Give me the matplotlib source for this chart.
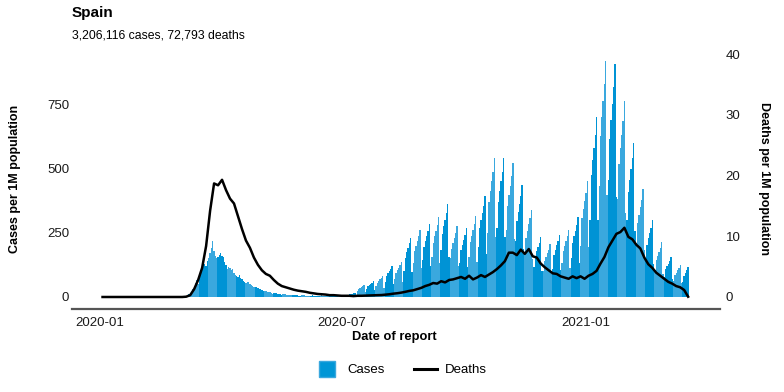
import matplotlib
matplotlib.use("Agg")
import matplotlib.pyplot as plt
import matplotlib.dates as mdates
from matplotlib.lines import Line2D
import numpy as np
import pandas as pd

plt.rcParams['font.family'] = ['Liberation Sans', 'DejaVu Sans']

title = "Spain"
subtitle = "3,206,116 cases, 72,793 deaths"

# daily cases per 1M population, one row per week (Mon..Sun), starting 2020-03-02
case_start = "2020-03-02"
cases = [
    1, 2, 3, 4, 5, 8, 10,
    15, 20, 30, 40, 55, 66, 50,
    90, 105, 115, 125, 130, 120, 141,
    150, 170, 190, 219, 180, 160, 150,
    157, 165, 171, 160, 156, 135, 125,
    110, 118, 112, 105, 109, 95, 85,
    80, 78, 86, 75, 70, 62, 58,
    55, 60, 58, 50, 48, 42, 40,
    38, 40, 35, 32, 30, 26, 22,
    22, 25, 20, 18, 18, 15, 13,
    15, 16, 14, 12, 12, 10, 9,
    10, 12, 10, 9, 8, 7, 6,
    8, 9, 7, 6, 6, 5, 4,
    6, 8, 6, 5, 5, 4, 3,
    5, 7, 5, 4, 4, 3, 2,
    4, 6, 4, 4, 3, 2, 2,
    4, 6, 4, 4, 3, 2, 2,
    5, 7, 5, 5, 4, 3, 3,
    8, 11, 12, 13, 14, 16, 7,
    23, 32, 36, 39, 42, 47, 20,
    31, 42, 47, 51, 56, 62, 27,
    41, 56, 62, 68, 74, 82, 35,
    60, 82, 92, 100, 109, 121, 52,
    68, 93, 104, 114, 123, 137, 59,
    100, 150, 175, 192, 208, 231, 99,
    131, 178, 199, 217, 236, 262, 113,
    142, 193, 216, 236, 256, 284, 122,
    155, 211, 236, 258, 280, 311, 134,
    181, 246, 275, 300, 326, 362, 156,
    150, 188, 210, 229, 248, 276, 119,
    134, 182, 204, 222, 241, 268, 115,
    157, 214, 239, 261, 283, 315, 135,
    196, 267, 299, 326, 354, 393, 169,
    250, 368, 411, 449, 487, 541, 233,
    270, 368, 411, 449, 487, 541, 233,
    260, 354, 396, 432, 469, 521, 224,
    218, 296, 331, 362, 392, 436, 187,
    170, 231, 258, 282, 306, 340, 146,
    117, 160, 179, 195, 211, 235, 101,
    102, 139, 156, 170, 184, 205, 88,
    110, 165, 184, 201, 218, 242, 104,
    131, 178, 199, 217, 236, 262, 113,
    150, 211, 236, 258, 280, 311, 134,
    200, 306, 342, 373, 405, 450, 193,
    300, 476, 532, 581, 630, 700, 301,
    430, 624, 698, 762, 826, 918, 395,
    453, 616, 689, 752, 815, 906, 390,
    380, 517, 578, 631, 684, 760, 327,
    300, 408, 456, 498, 540, 600, 258,
    210, 286, 319, 349, 378, 420, 181,
    150, 204, 228, 249, 270, 300, 129,
    106, 144, 161, 176, 191, 212, 91,
    78, 107, 119, 130, 141, 157, 68,
    62, 85, 95, 104, 112, 125, 54,
    60, 82, 95, 105, 118,
]

# deaths per 1M population, every 3rd day starting 2020-01-03
death_start = "2020-01-03"
deaths = [
    0, 0, 0, 0, 0, 0, 0, 0, 0, 0,
    0, 0, 0, 0, 0, 0, 0, 0, 0, 0,
    0, 0.05, 0.3, 1.3, 2.8, 4.8, 8.4, 14.2, 18.7, 18.4,
    19.3, 17.6, 16.2, 15.4, 13.3, 11.2, 9.3, 8.1, 6.5, 5.3,
    4.4, 3.8, 3.5, 2.8, 2.2, 1.8, 1.6, 1.4, 1.2, 1.05,
    0.95, 0.85, 0.7, 0.6, 0.5, 0.45, 0.4, 0.3, 0.3, 0.25,
    0.2, 0.2, 0.2, 0.15, 0.2, 0.2, 0.22, 0.25, 0.28, 0.3,
    0.32, 0.38, 0.45, 0.55, 0.62, 0.72, 0.85, 1.0, 1.1, 1.3,
    1.5, 1.8, 2.0, 2.3, 2.2, 2.6, 2.4, 2.8, 2.9, 3.1,
    3.3, 3.0, 3.5, 2.9, 3.2, 3.6, 3.3, 3.7, 4.1, 4.6,
    5.2, 5.9, 7.3, 7.3, 6.9, 7.8, 7.1, 7.9, 6.7, 6.5,
    5.5, 4.9, 4.4, 3.9, 3.8, 3.4, 3.2, 3.0, 3.4, 3.1,
    3.4, 3.0, 3.5, 3.8, 4.3, 5.5, 6.6, 8.2, 9.3, 10.4,
    10.7, 11.4, 9.9, 9.5, 8.6, 8.0, 6.5, 5.4, 4.8, 4.0,
    3.5, 3.0, 2.5, 2.2, 1.8, 1.6, 1.15, 0.05,
]

case_dates = pd.date_range(case_start, periods=len(cases), freq="D")
death_dates = pd.date_range(death_start, periods=len(deaths), freq="3D")

# alternate shade by week
week_no = np.arange(len(cases)) // 7
bar_colors = np.where(week_no % 2 == 0, "#0093d5", "#3aa8de")

fig = plt.figure(figsize=(7.84, 3.92), dpi=100)
ax = fig.add_axes([72 / 784, 1 - 308.8 / 392, 648 / 784, 259.8 / 392])

ax.bar(case_dates, cases, width=1.0, color=bar_colors, linewidth=0)

ax2 = ax.twinx()
ax2.plot(death_dates, deaths, color="black", lw=1.8, solid_joinstyle="round")

# y ranges: ggplot-like 5% padding, deaths axis is cases / 23.6
cmax = max(cases)
ax.set_ylim(-0.05 * cmax, 1.05 * cmax)
ax2.set_ylim(-0.05 * cmax / 23.6, 1.05 * cmax / 23.6)
ax.set_yticks([0, 250, 500, 750])
ax2.set_yticks([0, 10, 20, 30, 40])

ax.set_xlim(pd.Timestamp("2019-12-11"), pd.Timestamp("2021-04-12"))
ax.set_xticks(pd.to_datetime(["2020-01-01", "2020-07-01", "2021-01-01"]))
ax.xaxis.set_major_formatter(mdates.DateFormatter("%Y-%m"))

for a in (ax, ax2):
    for s in a.spines.values():
        s.set_visible(False)
    a.tick_params(length=0, labelsize=9.5, labelcolor="#1a1a1a", pad=4)
ax.spines["bottom"].set_visible(True)
ax.spines["bottom"].set_color("#555555")
ax.spines["bottom"].set_linewidth(1.6)
ax.tick_params(axis="x", pad=6)
ax.tick_params(axis="y", pad=2)

ax.set_xlabel("Date of report", fontsize=9.3, fontweight="bold")
ax.xaxis.set_label_coords(0.498, -0.085)
ax.set_ylabel("Cases per 1M population", fontsize=9, fontweight="bold")
ax.yaxis.set_label_coords(-0.079, 0.5)
ax2.set_ylabel("Deaths per 1M population", fontsize=9, fontweight="bold",
               rotation=270, va="bottom")
ax2.yaxis.set_label_coords(1.058, 0.5)

fig.text(72 / 784, 1 - 17 / 392, title, fontsize=11, fontweight="bold",
         va="baseline")
fig.text(72 / 784, 1 - 39 / 392, subtitle, fontsize=8.8, va="baseline")

handles = [Line2D([0], [0], marker="s", linestyle="none", markersize=12,
                  markerfacecolor="#0096d6", markeredgecolor="#3aa8de"),
           Line2D([0], [0], color="black", lw=2.2)]
fig.legend(handles, ["Cases", "Deaths"], loc="center",
           bbox_to_anchor=(0.512, 1 - 370 / 392), ncol=2, frameon=False,
           fontsize=9.5, handlelength=1.8, columnspacing=2.2,
           handletextpad=0.6)

fig.savefig("out.png", dpi=100)
